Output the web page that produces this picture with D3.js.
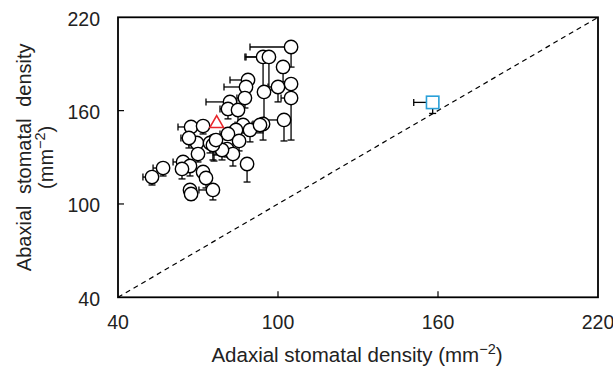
<!DOCTYPE html>
<html><head><meta charset="utf-8">
<script src="https://cdn.jsdelivr.net/npm/d3@7"></script>
<style>body{margin:0;background:#fff;} text{font-family:"Liberation Sans",Arial,sans-serif;}</style>
</head><body>
<svg id="c" width="613" height="367"></svg>
<script>
// Circles: adaxial (x), abaxial (y), and their lower error magnitudes
const xVals = [104.9,94.4,96.6,101.9,88.75,88,94.75,100,104.9,104.9,87.6,82,81.25,85,94.4,102.25,67.4,71.9,86.9,84.25,89.5,81.25,85.4,76,69.6,66.6,80.9,83.1,70,64.4,67,64,71.9,73,56.9,52.75,88.4,67,67.4,75.6,74.5,79,93.25,75.6,76.75];
const yVals = [200.9,194.5,194.5,188.1,179.7,175.2,172.0,175.2,177.1,168.1,168.1,165.6,161.1,160.4,151.4,154.0,149.5,150.1,150.8,147.6,147.6,145.0,140.5,140.5,139.2,142.4,135.3,132.1,132.1,127.0,124.4,122.5,120.6,116.7,123.1,117.3,125.7,109.0,106.4,109.0,139.2,134.7,150.8,137.9,141.1];
const xErr = [15.4,6.4,9,0,6.75,8.25,0,3.75,5.6,3.75,3,9,3,3,3.75,7.5,4.9,3,3,2.25,2.25,3,2.25,2.25,3,3,2.25,0,0,3.75,3,0,0,0,3.75,3.4,0,0,0,5.25,0,0,3,0,0];
const yErr = [12.9,21.2,21.2,9.6,6.4,6.4,18,9.6,9.6,27,6.4,5.1,6.4,9.6,10.3,13.5,5.1,5.1,5.1,6.4,7.7,3.9,6.4,12.9,6.4,6.4,5.1,7.7,5.1,6.4,6.4,6.4,5.1,6.4,5.1,5.1,11.6,5.1,3.9,6.4,6.4,6.4,5.1,9.6,9.6];
// Triangle and square
const triPoint = [77, 151.7];
const sqPoint = [158, 165.3];
const sqErr = [7.1, 7.1];
const xTicks = [40,100,160,220];
const yTicks = [40,100,160,220];

const svg = d3.select("#c");
const L=118, R=598, T=17.3, B=297.3;
const x = d3.scaleLinear().domain([40,220]).range([L,R]);
const y = d3.scaleLinear().domain([40,220]).range([B,T]);

// diagonal 1:1 line
svg.append("line").attr("x1",x(40)).attr("y1",y(40)).attr("x2",x(220)).attr("y2",y(220))
  .attr("stroke","#000").attr("stroke-width",1.2).attr("stroke-dasharray","5,4");

const data = xVals.map((v,i)=>({x:v,y:yVals[i],xe:xErr[i],ye:yErr[i]}));
const cap=3.5;
const eb = svg.append("g").attr("stroke","#000").attr("stroke-width",1.3);
function bars(g,d){
  if(d.xe>0){
    g.append("line").attr("x1",x(d.x-d.xe)).attr("x2",x(d.x)).attr("y1",y(d.y)).attr("y2",y(d.y));
    g.append("line").attr("x1",x(d.x-d.xe)).attr("x2",x(d.x-d.xe)).attr("y1",y(d.y)-cap).attr("y2",y(d.y)+cap);
  }
  if(d.ye>0){
    g.append("line").attr("x1",x(d.x)).attr("x2",x(d.x)).attr("y1",y(d.y)).attr("y2",y(d.y-d.ye));
    g.append("line").attr("x1",x(d.x)-cap).attr("x2",x(d.x)+cap).attr("y1",y(d.y-d.ye)).attr("y2",y(d.y-d.ye));
  }
}
data.forEach(d=>bars(eb,d));
svg.append("g").selectAll("circle").data(data).join("circle")
  .attr("cx",d=>x(d.x)).attr("cy",d=>y(d.y)).attr("r",6.7)
  .attr("fill","#fff").attr("stroke","#000").attr("stroke-width",1.4);

// triangle
const tx=x(triPoint[0]), ty=y(triPoint[1]);
svg.append("path").attr("d",d3.symbol().type(d3.symbolTriangle).size(80)())
  .attr("transform",`translate(${tx},${ty})`)
  .attr("fill","#fff").attr("stroke","#e8262b").attr("stroke-width",1.6);

// square with error bars
const sq = {x:sqPoint[0],y:sqPoint[1],xe:sqErr[0],ye:sqErr[1]};
bars(eb,sq);
svg.append("rect").attr("x",x(sq.x)-6.2).attr("y",y(sq.y)-6.2).attr("width",12.4).attr("height",12.4)
  .attr("fill","#fff").attr("stroke","#2aa0d8").attr("stroke-width",1.6);

// frame
svg.append("rect").attr("x",L).attr("y",T).attr("width",R-L).attr("height",B-T)
  .attr("fill","none").attr("stroke","#000").attr("stroke-width",1.8);

// ticks
const tk = svg.append("g").attr("stroke","#000").attr("stroke-width",1.2);
xTicks.slice(1,-1).forEach(v=>tk.append("line").attr("x1",x(v)).attr("x2",x(v)).attr("y1",B).attr("y2",B-6));
yTicks.slice(1,-1).forEach(v=>tk.append("line").attr("x1",L).attr("x2",L+6).attr("y1",y(v)).attr("y2",y(v)));

// tick labels
svg.append("g").selectAll("text").data(xTicks).join("text")
  .attr("x",d=>x(d)).attr("y",328.5).attr("text-anchor","middle")
  .attr("font-size",19.5).attr("fill","#222").text(d=>d);
svg.append("g").selectAll("text").data(yTicks).join("text")
  .attr("x",100).attr("y",d=>y(d)+8.5).attr("text-anchor","end")
  .attr("font-size",19.5).attr("fill","#222").text(d=>d);

// axis titles
const xt = svg.append("text").attr("x",357).attr("y",362).attr("text-anchor","middle")
  .attr("font-size",20.5).attr("fill","#222");
xt.append("tspan").text("Adaxial stomatal density (mm");
xt.append("tspan").attr("dy",-8).attr("font-size",14.5).text("\u22122");
xt.append("tspan").attr("dy",8).text(")");

const yt = svg.append("g").attr("transform","translate(0,157.3) rotate(-90)");
yt.append("text").attr("x",0).attr("y",31).attr("text-anchor","middle")
  .attr("font-size",20).attr("fill","#222").attr("word-spacing",6).text("Abaxial stomatal density");
const y2 = yt.append("text").attr("x",0).attr("y",53).attr("text-anchor","middle")
  .attr("font-size",20).attr("fill","#222");
y2.append("tspan").text("(mm");
y2.append("tspan").attr("dy",-8).attr("font-size",14.5).text("\u22122");
y2.append("tspan").attr("dy",8).text(")");
</script>
</body></html>
